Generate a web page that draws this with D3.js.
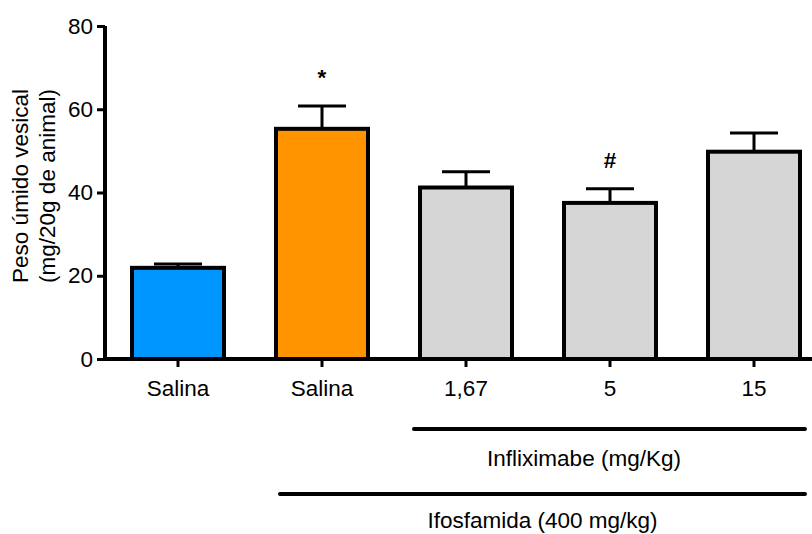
<!DOCTYPE html>
<html>
<head>
<meta charset="utf-8">
<script src="https://cdn.jsdelivr.net/npm/d3@7"></script>
<style>
  html, body { margin: 0; padding: 0; background: #fff; }
  svg { display: block; font-family: "Liberation Sans", Arial, sans-serif; }
</style>
</head>
<body>
<svg id="chart" width="812" height="534"></svg>
<script>
// Bladder wet weight per group (mean and mean + SEM)
const groups = ["Salina", "Salina ", "1,67", "5", "15"];
const tickLabels = ["Salina", "Salina", "1,67", "5", "15"];
const means = [21.9, 55.3, 41.2, 37.5, 49.8];
const errTops = [22.8, 60.8, 45.0, 40.9, 54.3];
const fills = ["#0096ff", "#ff9300", "#d6d6d6", "#d6d6d6", "#d6d6d6"];
const marks = ["", "*", "", "#", ""];
const yTicks = [0, 20, 40, 60, 80];

const FONT = 22.5;
const svg = d3.select("#chart");

const x = d3.scaleBand()
  .domain(groups)
  .range([106, 826])
  .paddingInner(1 / 3)
  .paddingOuter(1 / 6);

const y = d3.scaleLinear().domain([0, 80]).range([359, 26]);

const stroke = 4;
const cx = (d) => x(d) + x.bandwidth() / 2;

// bars
svg.append("g").selectAll("rect")
  .data(groups)
  .join("rect")
  .attr("x", (d) => x(d) + stroke / 2)
  .attr("width", x.bandwidth() - stroke)
  .attr("y", (d, i) => y(means[i]))
  .attr("height", (d, i) => y(0) - y(means[i]))
  .attr("fill", (d, i) => fills[i])
  .attr("stroke", "#000")
  .attr("stroke-width", stroke);

// error bars (upper only)
const err = svg.append("g").attr("stroke", "#000").attr("stroke-width", 3);
groups.forEach((g, i) => {
  err.append("line")
    .attr("x1", cx(g)).attr("x2", cx(g))
    .attr("y1", y(means[i])).attr("y2", y(errTops[i]));
  err.append("line")
    .attr("x1", cx(g) - x.bandwidth() / 4).attr("x2", cx(g) + x.bandwidth() / 4)
    .attr("y1", y(errTops[i])).attr("y2", y(errTops[i]));
});

// significance marks
svg.append("g").selectAll("text")
  .data(groups)
  .join("text")
  .attr("x", cx)
  .attr("y", (d, i) => y(errTops[i]) - 21)
  .attr("text-anchor", "middle")
  .attr("font-size", FONT)
  .attr("font-weight", "bold")
  .text((d, i) => marks[i]);

// y axis
const yAxis = svg.append("g")
  .attr("transform", "translate(105,0)")
  .call(d3.axisLeft(y).tickValues(yTicks).tickSize(8).tickPadding(4));
yAxis.select(".domain").attr("stroke-width", 4).attr("d", `M0,${y(80)}V${y(0) + 2}`);
yAxis.selectAll(".tick line").attr("stroke-width", 3);
yAxis.selectAll(".tick text").attr("font-size", FONT).attr("fill", "#000")
  .attr("font-family", "Liberation Sans, Arial, sans-serif");

// x axis
const xAxis = svg.append("g")
  .attr("transform", "translate(0,359)")
  .call(d3.axisBottom(x).tickSize(8).tickPadding(13).tickFormat((d, i) => tickLabels[i]));
xAxis.select(".domain").attr("stroke-width", 4).attr("d", "M103,0H812");
xAxis.selectAll(".tick line").attr("stroke-width", 3);
xAxis.selectAll(".tick text").attr("font-size", FONT).attr("fill", "#000")
  .attr("font-family", "Liberation Sans, Arial, sans-serif");

// y axis title
const yTitle = svg.append("text")
  .attr("transform", "translate(28,186) rotate(-90)")
  .attr("text-anchor", "middle")
  .attr("font-size", FONT);
yTitle.append("tspan").attr("x", 0).attr("dy", 0).text("Peso úmido vesical");
yTitle.append("tspan").attr("x", 0).attr("dy", 27).text("(mg/20g de animal)");

// treatment group brackets
const brackets = [
  { x1: x("1,67") - 4, label: "Infliximabe (mg/Kg)", tx: cx("5") - 26, ly: 429, ty: 466 },
  { x1: x("Salina ") + 6, label: "Ifosfamida (400 mg/kg)", tx: null, ly: 494, ty: 528 }
];
brackets.forEach((b) => {
  const x2 = x("15") + x.bandwidth() + 3;
  svg.append("line")
    .attr("x1", b.x1).attr("x2", x2)
    .attr("y1", b.ly).attr("y2", b.ly)
    .attr("stroke", "#000").attr("stroke-width", 4).attr("stroke-linecap", "round");
  svg.append("text")
    .attr("x", b.tx ?? (b.x1 + x2) / 2).attr("y", b.ty)
    .attr("text-anchor", "middle")
    .attr("font-size", FONT)
    .text(b.label);
});
</script>
</body>
</html>
